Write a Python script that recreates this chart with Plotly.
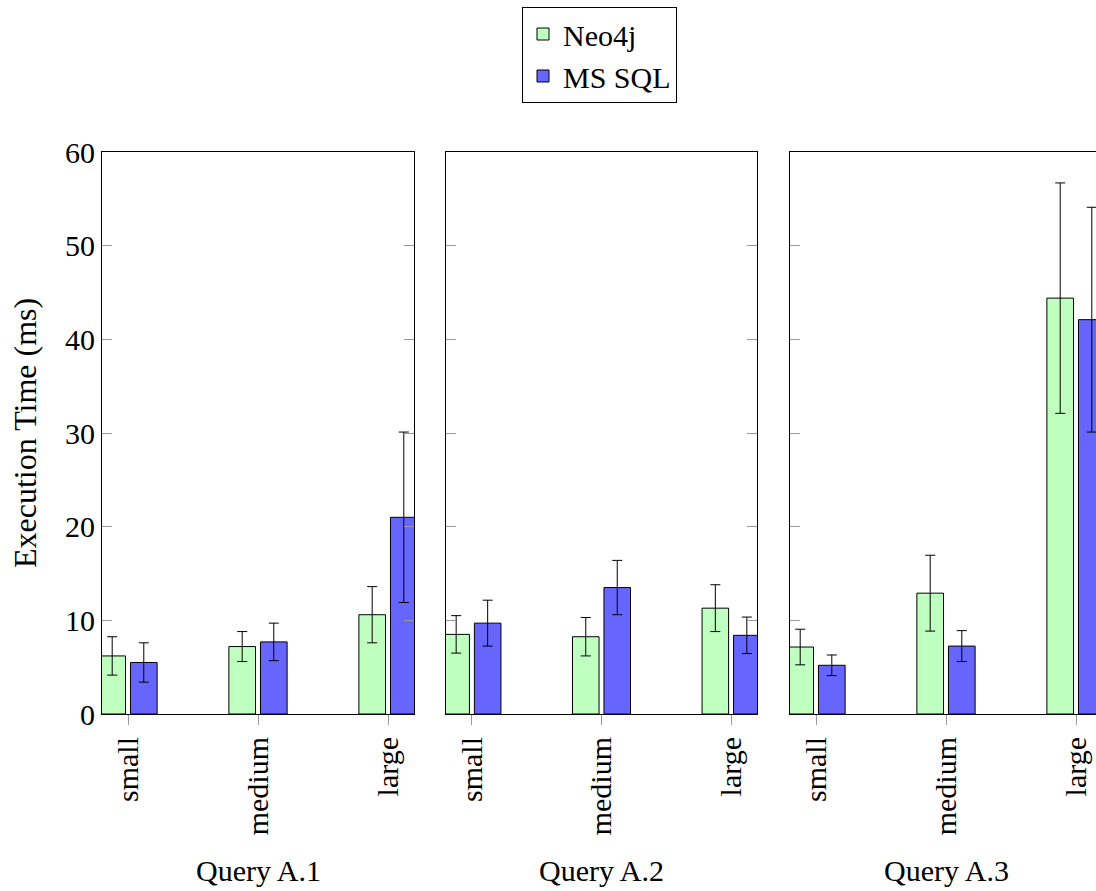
import plotly.graph_objects as go

categories = ["small", "medium", "large"]
queries = ["Query A.1", "Query A.2", "Query A.3"]

neo4j_mean = [[6.2, 7.2, 10.6], [8.5, 8.25, 11.3], [7.15, 12.9, 44.4]]
neo4j_err = [[2.05, 1.6, 3.0], [2.0, 2.05, 2.5], [1.9, 4.05, 12.3]]
mssql_mean = [[5.5, 7.7, 21.0], [9.7, 13.5, 8.4], [5.2, 7.25, 42.1]]
mssql_err = [[2.1, 2.0, 9.1], [2.45, 2.9, 1.95], [1.1, 1.65, 12.0]]

y_ticks = [0, 10, 20, 30, 40, 50, 60]

FONT = "Liberation Serif"
GREEN = "#bfffbf"
BLUE = "#6666ff"

W, H = 1096, 891
L, R, T, B = 102, 0, 152, 177
pw = W - L - R
panels_px = [(102, 414), (446, 757), (790, 1096)]
domains = [[(a - L) / pw, min(1.0, (b - L) / pw)] for a, b in panels_px]
x_ranges = [[-0.2, 2.2], [-0.2, 2.2], [-0.2, -0.2 + 306 / 130]]

fig = go.Figure()

for i in range(3):
    xa = "x" if i == 0 else f"x{i+1}"
    ya = "y" if i == 0 else f"y{i+1}"
    fig.add_trace(go.Bar(
        x=categories, y=neo4j_mean[i], name="Neo4j",
        marker=dict(color=GREEN, line=dict(color="black", width=1)),
        error_y=dict(type="data", array=neo4j_err[i], color="black", thickness=1, width=5),
        offset=-0.224, width=0.205, xaxis=xa, yaxis=ya,
        showlegend=(i == 0), legendgroup="neo",
    ))
    fig.add_trace(go.Bar(
        x=categories, y=mssql_mean[i], name="MS SQL",
        marker=dict(color=BLUE, line=dict(color="black", width=1)),
        error_y=dict(type="data", array=mssql_err[i], color="black", thickness=1, width=5),
        offset=0.019, width=0.205, xaxis=xa, yaxis=ya,
        showlegend=(i == 0), legendgroup="ms",
    ))

layout = dict(
    width=W, height=H,
    margin=dict(l=L, r=R, t=T, b=B, pad=0),
    paper_bgcolor="white", plot_bgcolor="white",
    barmode="overlay",
    font=dict(family=FONT, size=30, color="black"),
    legend=dict(
        x=(522 - L) / pw, xanchor="left",
        y=(H - B - 7) / (H - B - T), yanchor="top",
        bordercolor="black", borderwidth=1,
        font=dict(family=FONT, size=30),
        bgcolor="white", tracegroupgap=0,
    ),
)

for i in range(3):
    xk = "xaxis" if i == 0 else f"xaxis{i+1}"
    yk = "yaxis" if i == 0 else f"yaxis{i+1}"
    layout[xk] = dict(
        domain=domains[i], anchor="y" if i == 0 else f"y{i+1}",
        type="category", range=x_ranges[i],
        showline=True, linecolor="black", linewidth=1, mirror=True,
        ticks="outside", ticklen=10, tickcolor="#999999", tickwidth=1,
        tickangle=-90, tickfont=dict(family=FONT, size=30),
        showgrid=False, zeroline=False, fixedrange=True,
    )
    layout[yk] = dict(
        anchor="x" if i == 0 else f"x{i+1}",
        range=[0, 60], tickvals=y_ticks,
        showline=True, linecolor="black", linewidth=1,
        mirror=("ticks" if i < 2 else False),
        ticks="inside", ticklen=10, tickcolor="#999999", tickwidth=1,
        showticklabels=(i == 0), tickfont=dict(family=FONT, size=30),
        showgrid=False, zeroline=False, fixedrange=True,
    )

fig.update_layout(**layout)

for i in range(3):
    fig.add_annotation(
        text=queries[i], xref="x" if i == 0 else f"x{i+1}", x=1,
        yref="paper", y=(H - B - 870) / (H - B - T), yanchor="middle",
        showarrow=False, font=dict(family=FONT, size=30),
    )

fig.add_annotation(
    text="Execution Time (ms)", textangle=-90,
    xref="paper", x=(25 - L) / pw, xanchor="center",
    yref="paper", y=0.5, yanchor="middle",
    showarrow=False, font=dict(family=FONT, size=32),
)

fig.write_html(
    "out.html",
    config={"displayModeBar": False},
    post_script="document.body.style.margin='0';document.body.style.overflow='hidden';",
)
